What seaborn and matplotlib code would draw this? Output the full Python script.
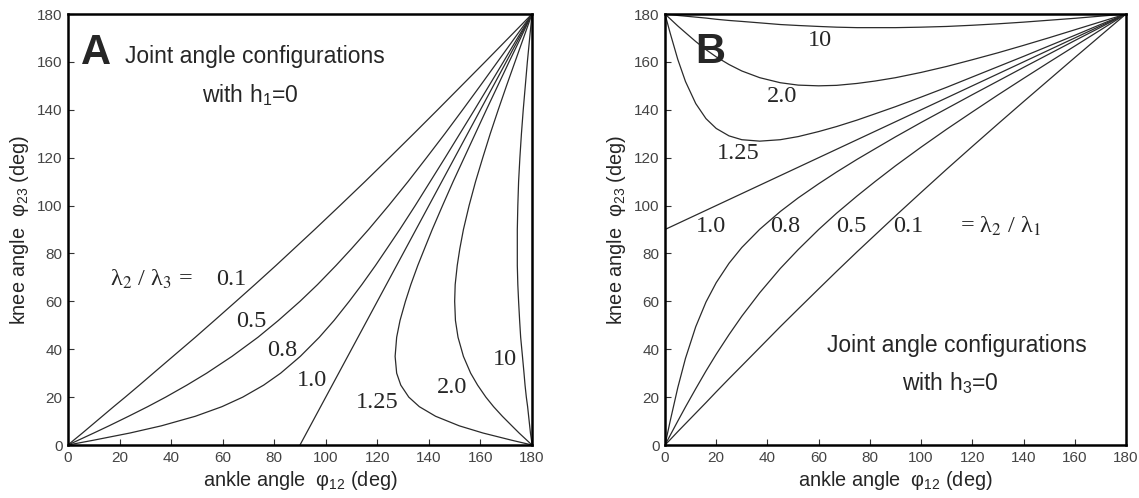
import pandas as pd
import matplotlib
matplotlib.use("Agg")
import matplotlib.pyplot as plt
import seaborn as sns

# ---- data ----
ratios = ["0.1", "0.5", "0.8", "1.0", "1.25", "2.0", "10"]

# panel A (h1 = 0): ankle angle at each knee angle, one list per lambda2/lambda3
knee_a = [0, 2, 5, 8, 12, 16, 20, 25, 30, 37, 45, 52, 60, 67, 75, 82, 90,
          100, 110, 120, 130, 140, 150, 160, 170, 180]
ankle_a_01 = [0, 2.2, 5.6, 8.9, 13.3, 17.7, 22.2, 27.7, 33.1, 40.7, 49.4, 56.8, 65.2, 72.5, 80.7, 87.7, 95.7,
              105.5, 115.2, 124.7, 134.1, 143.4, 152.6, 161.8, 170.9, 180]
ankle_a_05 = [0, 4.0, 10.0, 15.9, 23.5, 30.9, 37.9, 46.1, 53.8, 63.6, 73.7, 81.6, 90.0, 96.8, 104.0, 110.0, 116.6,
              124.4, 131.9, 139.1, 146.2, 153.1, 159.9, 166.6, 173.3, 180]
ankle_a_08 = [0, 9.9, 24.0, 36.2, 49.4, 59.7, 67.8, 75.9, 82.5, 90.1, 97.5, 103.2, 109.1, 114.0, 119.3, 123.7, 128.7,
              134.7, 140.5, 146.3, 152.0, 157.7, 163.3, 168.9, 174.4, 180]
ankle_a_10 = [90, 91, 92.5, 94, 96, 98, 100, 102.5, 105, 108.5, 112.5, 116, 120, 123.5, 127.5, 131, 135,
              140, 145, 150, 155, 160, 165, 170, 175, 180]
ankle_a_125 = [180, 172.1, 161.0, 151.8, 142.6, 136.3, 132.2, 129.1, 127.5, 126.9, 127.5, 128.8, 130.9, 133.0, 135.7, 138.3, 141.3,
               145.3, 149.4, 153.7, 158.0, 162.3, 166.7, 171.1, 175.6, 180]
ankle_a_20 = [180, 178.0, 175.0, 172.2, 168.5, 165.1, 162.1, 158.9, 156.2, 153.4, 151.3, 150.3, 150.0, 150.2, 151.0, 152.0, 153.4,
              155.6, 158.1, 160.9, 163.8, 166.9, 170.1, 173.4, 176.7, 180]
ankle_a_100 = [180, 179.8, 179.4, 179.1, 178.7, 178.3, 177.8, 177.3, 176.9, 176.3, 175.6, 175.2, 174.8, 174.5, 174.3, 174.3, 174.3,
               174.5, 174.8, 175.3, 175.9, 176.6, 177.4, 178.2, 179.1, 180]

# panel B (h3 = 0): knee angle at each ankle angle, one list per lambda2/lambda1
ankle_b = [0, 2, 5, 8, 12, 16, 20, 25, 30, 37, 45, 52, 60, 67, 75, 82, 90,
           100, 110, 120, 130, 140, 150, 160, 170, 180]
knee_b_01 = [0, 2.2, 5.6, 8.9, 13.3, 17.7, 22.2, 27.7, 33.1, 40.7, 49.4, 56.8, 65.2, 72.5, 80.7, 87.7, 95.7,
             105.5, 115.2, 124.7, 134.1, 143.4, 152.6, 161.8, 170.9, 180]
knee_b_05 = [0, 4.0, 10.0, 15.9, 23.5, 30.9, 37.9, 46.1, 53.8, 63.6, 73.7, 81.6, 90.0, 96.8, 104.0, 110.0, 116.6,
             124.4, 131.9, 139.1, 146.2, 153.1, 159.9, 166.6, 173.3, 180]
knee_b_08 = [0, 9.9, 24.0, 36.2, 49.4, 59.7, 67.8, 75.9, 82.5, 90.1, 97.5, 103.2, 109.1, 114.0, 119.3, 123.7, 128.7,
             134.7, 140.5, 146.3, 152.0, 157.7, 163.3, 168.9, 174.4, 180]
knee_b_10 = [90, 91, 92.5, 94, 96, 98, 100, 102.5, 105, 108.5, 112.5, 116, 120, 123.5, 127.5, 131, 135,
             140, 145, 150, 155, 160, 165, 170, 175, 180]
knee_b_125 = [180, 172.1, 161.0, 151.8, 142.6, 136.3, 132.2, 129.1, 127.5, 126.9, 127.5, 128.8, 130.9, 133.0, 135.7, 138.3, 141.3,
              145.3, 149.4, 153.7, 158.0, 162.3, 166.7, 171.1, 175.6, 180]
knee_b_20 = [180, 178.0, 175.0, 172.2, 168.5, 165.1, 162.1, 158.9, 156.2, 153.4, 151.3, 150.3, 150.0, 150.2, 151.0, 152.0, 153.4,
             155.6, 158.1, 160.9, 163.8, 166.9, 170.1, 173.4, 176.7, 180]
knee_b_100 = [180, 179.8, 179.4, 179.1, 178.7, 178.3, 177.8, 177.3, 176.9, 176.3, 175.6, 175.2, 174.8, 174.5, 174.3, 174.3, 174.3,
              174.5, 174.8, 175.3, 175.9, 176.6, 177.4, 178.2, 179.1, 180]

ticks = [0, 20, 40, 60, 80, 100, 120, 140, 160, 180]

# long tables for seaborn
rows = []
for r, xs in zip(ratios, [ankle_a_01, ankle_a_05, ankle_a_08, ankle_a_10, ankle_a_125, ankle_a_20, ankle_a_100]):
    for i, (x, y) in enumerate(zip(xs, knee_a)):
        rows.append({"ratio": r, "step": i, "ankle": x, "knee": y})
df_a = pd.DataFrame(rows)

rows = []
for r, ys in zip(ratios, [knee_b_01, knee_b_05, knee_b_08, knee_b_10, knee_b_125, knee_b_20, knee_b_100]):
    for i, (x, y) in enumerate(zip(ankle_b, ys)):
        rows.append({"ratio": r, "step": i, "ankle": x, "knee": y})
df_b = pd.DataFrame(rows)

sns.set_theme(style="white")
plt.rcParams["font.family"] = ["Liberation Sans", "DejaVu Sans"]
plt.rcParams["mathtext.fontset"] = "custom"
plt.rcParams["mathtext.rm"] = "Liberation Sans"
plt.rcParams["mathtext.it"] = "Liberation Sans:italic"
plt.rcParams["mathtext.bf"] = "Liberation Sans:bold"

fig = plt.figure(figsize=(11.39, 4.98), dpi=100)
ax_a = fig.add_axes([68 / 1139, 53 / 498, 464 / 1139, 431 / 498])
ax_b = fig.add_axes([665 / 1139, 53 / 498, 461 / 1139, 431 / 498])

line_kw = dict(x="ankle", y="knee", units="ratio", estimator=None, sort=False,
               color="#2b2b2b", linewidth=0.9, legend=False)
sns.lineplot(data=df_a, ax=ax_a, **line_kw)
sns.lineplot(data=df_b, ax=ax_b, **line_kw)

for ax in (ax_a, ax_b):
    ax.set_xlim(0, 180)
    ax.set_ylim(0, 180)
    ax.set_xticks(ticks)
    ax.set_yticks(ticks)
    ax.tick_params(direction="in", length=4, width=0.8, color="#333333",
                   labelsize=11, labelcolor="#444444", pad=4,
                   bottom=True, left=True, top=False, right=False)
    for s in ax.spines.values():
        s.set_linewidth(1.8)
        s.set_color("black")
    ax.set_xlabel("ankle angle  φ$_{12}$ (deg)", fontsize=14.3, labelpad=3)
    ax.set_ylabel("knee angle  φ$_{23}$ (deg)", fontsize=14.3, labelpad=4)

serif = dict(family="Liberation Serif", math_fontfamily="stix", fontsize=17.5,
             ha="center", va="center")

# panel A annotations
ax_a.text(4.9, 159.2, "A", fontsize=30, fontweight="bold", ha="left", va="baseline")
ax_a.text(22.1, 159.4, "Joint angle configurations", fontsize=16.5, ha="left", va="baseline")
ax_a.text(70.6, 143.4, "with h$_1$=0", fontsize=16.5, ha="center", va="baseline")
ax_a.text(32.4, 69.3, "λ$_2$ / λ$_3$ =", **serif)
for lab, (x, y) in zip(ratios, [(63.2, 69.3), (71.0, 51.7), (83.1, 39.4), (94.8, 26.9),
                                (120.0, 17.6), (148.8, 24.0), (169.4, 35.8)]):
    ax_a.text(x, y, lab, **serif)

# panel B annotations
ax_b.text(11.7, 159.4, "B", fontsize=30, fontweight="bold", ha="left", va="baseline")
ax_b.text(114.0, 39.0, "Joint angle configurations", fontsize=16.5, ha="center", va="baseline")
ax_b.text(111.4, 23.0, "with h$_3$=0", fontsize=16.5, ha="center", va="baseline")
ax_b.text(131.2, 91.2, "= λ$_2$ / λ$_1$", **serif)
for lab, (x, y) in zip(ratios, [(94.8, 91.2), (72.7, 91.2), (47.0, 91.2), (18.0, 91.2),
                                (28.7, 121.8), (45.7, 145.5), (60.5, 169.1)]):
    ax_b.text(x, y, lab, **serif)

fig.savefig("out.png", dpi=100)
